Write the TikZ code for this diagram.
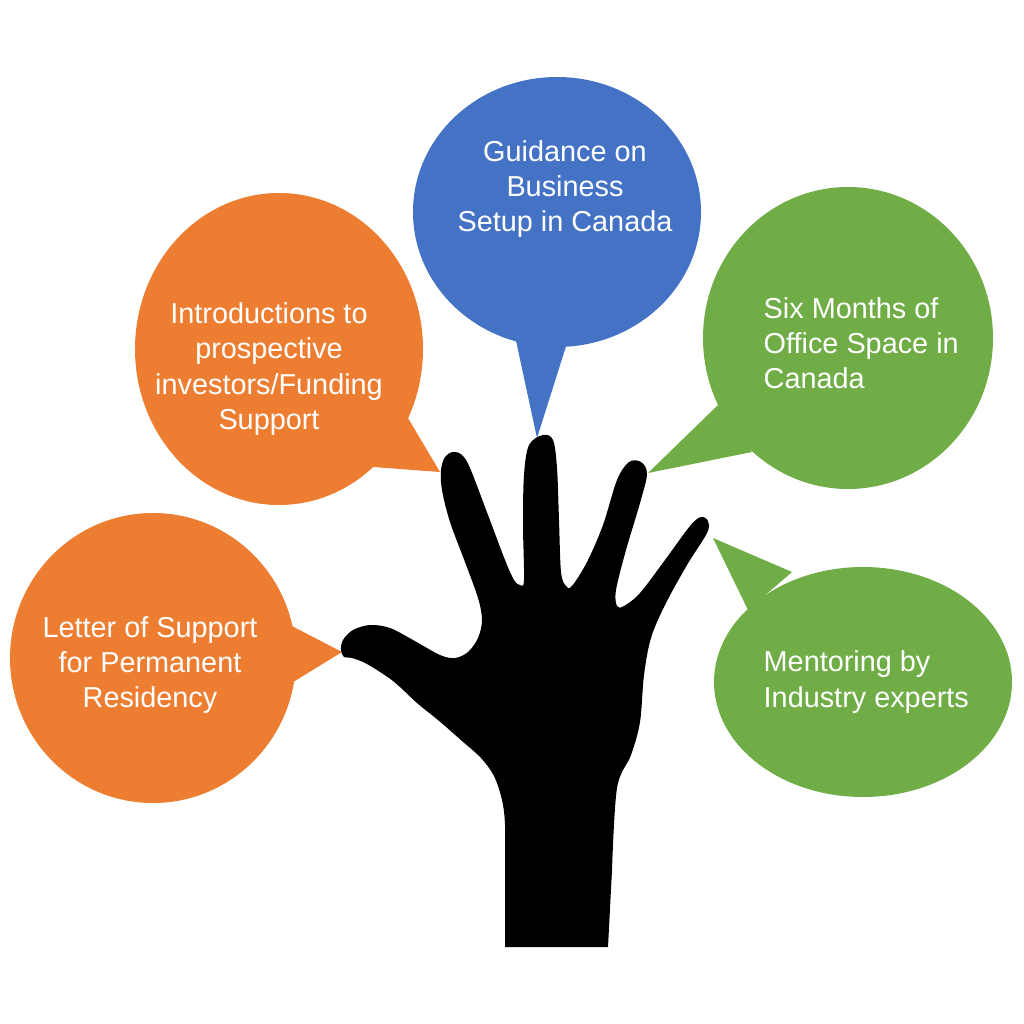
\documentclass[tikz,border=0pt]{standalone}
\usepackage{fontspec}
\setmainfont{Liberation Sans}
\definecolor{cOrange}{HTML}{ED7D31}
\definecolor{cBlue}{HTML}{4472C4}
\definecolor{cGreen}{HTML}{70AD47}
\begin{document}
\begin{tikzpicture}[x=0.01cm,y=-0.01cm]
\tikzset{
  bubtext/.style={text=white, inner sep=0pt, font=\fontsize{8.2}{10}\selectfont},
}
\useasboundingbox (0,0) rectangle (1024,1024);
% Blue bubble
\fill[cBlue] (557,212) ellipse [x radius=144, y radius=135];
\fill[cBlue] (515,336) -- (537,438) -- (568,340) -- cycle;
% Orange top bubble
\fill[cOrange] (279,349) ellipse [x radius=144, y radius=156];
\fill[cOrange] (408,418) -- (440,472) -- (373,467) -- cycle;
% Green top bubble
\fill[cGreen] (848,338) ellipse [x radius=145, y radius=151];
\fill[cGreen] (718,405) -- (648,473) -- (752,452) -- cycle;
% Orange bottom bubble
\fill[cOrange] (153,658) ellipse [x radius=143, y radius=145];
\fill[cOrange] (290,625) -- (342,652) -- (290,684) -- cycle;
% Green bottom bubble
\fill[cGreen] (863,682) ellipse [x radius=149, y radius=115];
\fill[cGreen] (792,572) -- (713,538) -- (748,610) -- cycle;
% Texts
\node[bubtext, align=center] (tBlue) at (565,189) {Guidance on\\Business\\Setup in Canada};
\node[bubtext, align=center] (tOrTop) at (269,369) {Introductions to\\prospective\\investors/Funding\\Support};
\node[bubtext, align=left, anchor=west] (tGrTop) at (763,343) {Six Months of\\Office Space in\\Canada};
\node[bubtext, align=center] (tOrBot) at (150,665) {Letter of Support\\for Permanent\\Residency};
\node[bubtext, align=left, anchor=west] (tGrBot) at (763,682) {Mentoring by\\Industry experts};
% Hand
\fill[black] (608,947) -- (505,947) -- plot[smooth, tension=0.55] coordinates {
 (505,870) (505,825) (502,800) (494,776) (481,758) (462,741) (438,720) (417,703) (393,681) (367,664) (352,658)
 (344,657) (341,650) (343,640) (353,630) (370,625) (390,628) (413,640) (440,655) (455,658)
 (468,652) (478,638) (482,620) (478,598) (465,562) (450,522) (442,490) (441,470) (445,457) (453,452)
 (462,455) (470,468) (488,515) (505,560) (514,580) (520,585) (524,580)
 (523,525) (524,475) (529,445) (543,435) (553,440) (557,468) (559,520) (561,572) (566,586) (572,586)
 (587,562) (603,525) (617,480) (629,462) (641,462) (647,474) (640,503) (626,550) (616,590) (617,606) (624,606)
 (640,593) (665,560) (690,526) (701,517) (708,521) (707,533) (687,565) (665,605) (651,638) (644,675)
 (640,722) (631,755) (617,788) (612,870)
} -- cycle;
\end{tikzpicture}
\end{document}
